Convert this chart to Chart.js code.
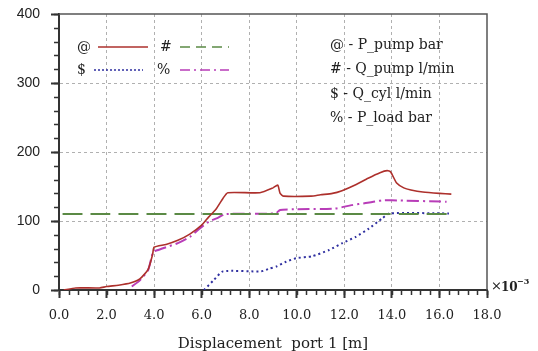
<!DOCTYPE html>
<html>
<head>
<meta charset="utf-8">
<script src="https://cdn.jsdelivr.net/npm/chart.js@4/dist/chart.umd.min.js"></script>
<style>
  html, body { margin: 0; padding: 0; background: #fff; }
  #wrap { width: 538px; height: 351px; }
</style>
</head>
<body>
<div id="wrap"><canvas id="chart" width="538" height="351"></canvas></div>
<script>
// Series data (x in 1e-3 m)
const pPumpX = [0.2, 0.7, 1.7, 2.0, 2.5, 3.0, 3.4, 3.75, 3.94, 4.0, 4.5, 5.0, 5.5, 6.0, 6.3, 6.6, 6.9, 7.1, 8.45, 9.0, 9.2, 9.3, 9.45, 10.6, 11.0, 11.5, 11.9, 12.5, 13.0, 13.5, 13.8, 13.95, 14.2, 14.5, 14.8, 15.3, 16.0, 16.5];
const pPumpY = [0, 3, 3, 5, 7, 10, 16, 30, 52, 62, 66, 72, 81, 94, 106, 117, 133, 141, 141, 148, 152, 140, 136, 136, 138, 140, 144, 153, 162, 170, 173, 171, 155, 148, 145, 142, 140, 139];

const qPumpX = [0.15, 16.4];
const qPumpY = [110, 110];

const qCylX = [6.1, 6.5, 6.9, 8.5, 8.85, 9.14, 9.55, 9.97, 10.65, 11.36, 11.92, 12.48, 13.03, 13.6, 13.9, 16.4];
const qCylY = [0, 14, 27, 27, 31, 34, 41, 46, 49, 58, 68, 77, 89, 104, 111, 111];

const pLoadX = [3.06, 3.4, 3.75, 3.96, 4.17, 4.5, 5.0, 5.5, 5.95, 6.3, 6.7, 7.0, 9.1, 9.3, 10.0, 11.6, 12.3, 12.9, 13.6, 14.0, 16.3];
const pLoadY = [5, 14, 29, 55, 58, 62, 68, 77, 90, 99, 105, 110, 111, 116, 117, 118, 123, 126, 130, 130, 128];

const legendKeys = ['@', '#', '$', '%'];
const legendNames = ['P_pump bar', 'Q_pump l/min', 'Q_cyl l/min', 'P_load bar'];

const xTickStep = 2, xMinorStep = 0.4;
const yTickStep = 100, yMinorStep = 20;

const COLORS = ['#ad302c', '#5b8a45', '#2f2fa0', '#b83db8'];
const DASHES = [[], [20, 8], [2, 3], [12, 4, 2, 4]];
const LEGEND_DASHES = [[], [10, 6], [2, 2], [10, 4, 2, 4]];

function toPoints(xs, ys) {
  return xs.map((x, i) => ({ x: x, y: ys[i] }));
}

const seriesXs = [pPumpX, qPumpX, qCylX, pLoadX];
const seriesYs = [pPumpY, qPumpY, qCylY, pLoadY];

const datasets = seriesXs.map((xs, i) => ({
  label: legendNames[i],
  data: toPoints(xs, seriesYs[i]),
  borderColor: COLORS[i],
  borderWidth: i === 0 ? 1.6 : 2,
  borderDash: DASHES[i],
  pointRadius: 0,
  tension: 0.2,
  fill: false
}));

// minor ticks, frame, legend and exponent label
const decorPlugin = {
  id: 'decor',
  afterDraw(chart) {
    const ctx = chart.ctx;
    const area = chart.chartArea;
    const xs = chart.scales.x, ys = chart.scales.y;
    ctx.save();

    // frame top/right
    ctx.strokeStyle = '#555';
    ctx.lineWidth = 1.5;
    ctx.beginPath();
    ctx.moveTo(area.left, area.top);
    ctx.lineTo(area.right, area.top);
    ctx.lineTo(area.right, area.bottom);
    ctx.stroke();

    // minor ticks
    ctx.strokeStyle = '#333';
    ctx.lineWidth = 1.5;
    ctx.beginPath();
    for (let v = 0; v <= xs.max + 1e-9; v += xMinorStep) {
      const px = Math.round(xs.getPixelForValue(v)) + 0.5;
      ctx.moveTo(px, area.bottom);
      ctx.lineTo(px, area.bottom + 5);
    }
    for (let v = 0; v <= ys.max + 1e-9; v += yMinorStep) {
      const py = Math.round(ys.getPixelForValue(v)) + 0.5;
      ctx.moveTo(area.left, py);
      ctx.lineTo(area.left - 5, py);
    }
    ctx.stroke();

    // legend samples
    ctx.font = '14px "DejaVu Serif"';
    ctx.fillStyle = '#222';
    ctx.textBaseline = 'middle';
    const cells = [
      { kx: 77, lx0: 98, lx1: 148, y: 47 },
      { kx: 160, lx0: 180, lx1: 229, y: 47 },
      { kx: 77, lx0: 94, lx1: 143, y: 70 },
      { kx: 157, lx0: 180, lx1: 229, y: 70 }
    ];
    cells.forEach((c, i) => {
      ctx.fillText(legendKeys[i], c.kx, c.y);
      ctx.strokeStyle = COLORS[i];
      ctx.lineWidth = 1.5;
      ctx.setLineDash(LEGEND_DASHES[i]);
      ctx.beginPath();
      ctx.moveTo(c.lx0, c.y);
      ctx.lineTo(c.lx1, c.y);
      ctx.stroke();
    });
    ctx.setLineDash([]);

    // legend names
    legendNames.forEach((name, i) => {
      ctx.fillText(legendKeys[i] + ' - ' + name, 330, 45 + i * 24.5);
    });

    // exponent
    ctx.font = '13px "DejaVu Serif"';
    ctx.fillText('\u00d7', area.right + 4, area.bottom - 3);
    ctx.font = 'bold 12px "DejaVu Serif"';
    ctx.fillText('10', area.right + 14, area.bottom - 2);
    ctx.font = 'bold 8px "DejaVu Serif"';
    ctx.fillText('\u22123', area.right + 30, area.bottom - 8);

    ctx.restore();
  }
};

new Chart(document.getElementById('chart'), {
  type: 'line',
  data: { datasets: datasets },
  options: {
    responsive: false,
    animation: false,
    layout: { padding: { top: 14, right: 51, left: 0, bottom: 0 } },
    plugins: { legend: { display: false }, tooltip: { enabled: false } },
    scales: {
      x: {
        type: 'linear',
        min: 0,
        max: 18,
        afterFit(s) { s.height = 61; s.paddingLeft = 0; s.paddingRight = 0; },
        ticks: {
          stepSize: xTickStep,
          padding: 10,
          color: '#222',
          font: { family: 'DejaVu Serif', size: 13 },
          callback: v => v.toFixed(1),
          maxRotation: 0
        },
        grid: {
          color: ctx => (ctx.tick && (ctx.tick.value === 0 || ctx.tick.value === 18)) ? 'rgba(0,0,0,0)' : '#b0b0b0',
          lineWidth: 1,
          tickColor: '#333',
          tickLength: 8,
          tickWidth: 2
        },
        border: { display: true, color: '#333', width: 2, dash: [3, 3] },
        title: {
          display: true,
          text: 'Displacement  port 1 [m]',
          color: '#222',
          font: { family: 'DejaVu Serif', size: 15 },
          padding: { top: 0, bottom: -2 }
        }
      },
      y: {
        min: 0,
        max: 400,
        afterFit(s) { s.width = 59; s.paddingTop = 0; s.paddingBottom = 0; },
        ticks: {
          stepSize: yTickStep,
          padding: 11,
          color: '#222',
          font: { family: 'Liberation Sans', size: 14 }
        },
        grid: {
          color: ctx => (ctx.tick && (ctx.tick.value === 0 || ctx.tick.value === 400)) ? 'rgba(0,0,0,0)' : '#b0b0b0',
          lineWidth: 1,
          tickColor: '#333',
          tickLength: 8,
          tickWidth: 2
        },
        border: { display: true, color: '#333', width: 2, dash: [3, 3] }
      }
    }
  },
  plugins: [decorPlugin]
});
</script>
</body>
</html>
